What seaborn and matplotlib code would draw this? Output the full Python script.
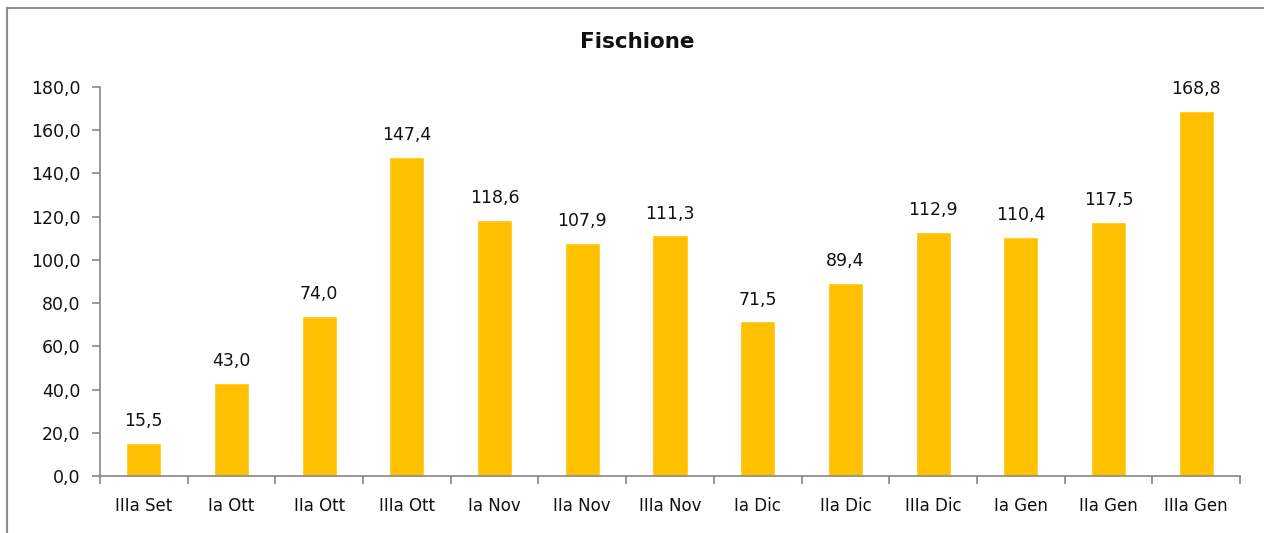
import numpy as np
import matplotlib.pyplot as plt
import seaborn as sns
import pandas as pd
from matplotlib.ticker import FuncFormatter, FixedLocator
from matplotlib.patches import Rectangle

# data
periods = ["IIIa Set", "Ia Ott", "IIa Ott", "IIIa Ott", "Ia Nov", "IIa Nov", "IIIa Nov",
           "Ia Dic", "IIa Dic", "IIIa Dic", "Ia Gen", "IIa Gen", "IIIa Gen"]
values = [15.5, 43.0, 74.0, 147.4, 118.6, 107.9, 111.3, 71.5, 89.4, 112.9, 110.4, 117.5, 168.8]
y_ticks = [0, 20, 40, 60, 80, 100, 120, 140, 160, 180]

df = pd.DataFrame({"periodo": periods, "valore": values})

sns.set_theme(style="white")
plt.rcParams['font.family'] = ['DejaVu Sans']

fig = plt.figure(figsize=(12.64, 5.33), dpi=100)
ax = fig.add_axes([100 / 1264, 1 - 476 / 533, 1140 / 1264, 389 / 533])

sns.barplot(data=df, x="periodo", y="valore", color="#FFC000", width=0.4,
            saturation=1, ax=ax)

ax.set_ylim(0, 180)
ax.set_xlim(-0.5, len(periods) - 0.5)
ax.yaxis.set_major_locator(FixedLocator(y_ticks))
ax.yaxis.set_major_formatter(FuncFormatter(lambda v, p: f"{v:.1f}".replace(".", ",")))

# value labels
for i, v in enumerate(values):
    ax.text(i, v + 6, f"{v:.1f}".replace(".", ","), ha="center", va="bottom",
            fontsize=12.5, color="#111111")

# excel style ticks between categories
ax.set_xticks(np.arange(len(periods)))
ax.set_xticklabels(periods)
ax.set_xticks(np.arange(len(periods) + 1) - 0.5, minor=True)
ax.tick_params(axis="x", which="major", length=0, pad=15, labelsize=12, colors="#111111")
ax.tick_params(axis="x", which="minor", length=6, width=1.2, color="#868686", direction="out")
ax.tick_params(axis="y", length=6, width=1.2, color="#868686", direction="out",
               labelsize=12.5, labelcolor="#111111", pad=8, left=True)
ax.tick_params(axis="x", which="minor", bottom=True)

for side in ["top", "right"]:
    ax.spines[side].set_visible(False)
for side in ["left", "bottom"]:
    ax.spines[side].set_color("#868686")
    ax.spines[side].set_linewidth(1.2)

ax.set_xlabel("")
ax.set_ylabel("")

fig.text(637 / 1264, 1 - 42 / 533, "Fischione", ha="center", va="center",
         fontsize=15.5, fontweight="bold", color="#111111")

# chart frame
fig.patches.append(Rectangle((7 / 1264, -0.1), 1.2, 1 - 8 / 533 + 0.1,
                             transform=fig.transFigure, fill=False,
                             edgecolor="#8c8c8c", linewidth=1.5))

fig.savefig("out.png", dpi=100)
